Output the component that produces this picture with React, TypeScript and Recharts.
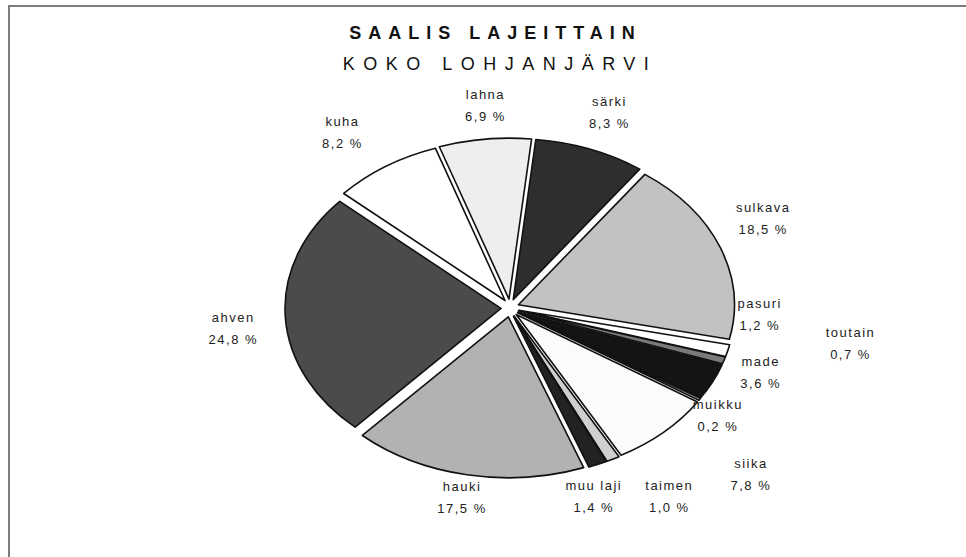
import React from 'react';
import { PieChart, Pie, Cell } from 'recharts';

// catch share by species, clockwise from the top
const species = ['särki', 'sulkava', 'pasuri', 'toutain', 'made', 'muikku', 'siika', 'taimen', 'muu laji', 'hauki', 'ahven', 'kuha', 'lahna'];
const shares = [8.3, 18.5, 1.2, 0.7, 3.6, 0.2, 7.8, 1.0, 1.4, 17.5, 24.8, 8.2, 6.9];
const shareLabels = ['8,3 %', '18,5 %', '1,2 %', '0,7 %', '3,6 %', '0,2 %', '7,8 %', '1,0 %', '1,4 %', '17,5 %', '24,8 %', '8,2 %', '6,9 %'];

const fills = ['#2e2e2e', '#c2c2c2', '#ffffff', '#7a7a7a', '#141414', '#f4f4f4', '#fbfbfb', '#cfcfcf', '#222222', '#b2b2b2', '#4b4b4b', '#ffffff', '#eeeeee'];
// manual label tweaks, like dragged labels in the original
const labelNudge: [number, number][] = [
  [8, -8], [14, -18], [2, -44], [97, -26], [20, -23], [-8, -1], [66, 20],
  [42, 10], [-16, 3], [1, -8], [-21, 10], [-26, -8], [4, -3],
];

const data = species.map((name, i) => ({ name, value: shares[i], label: shareLabels[i] }));

const TILT = 0.745;
const EXPLODE = 9;
const RAD = Math.PI / 180;

const EllipseSlice = (props: any) => {
  const { cx, cy, startAngle, endAngle, outerRadius, fill } = props;
  const rx = outerRadius;
  const ry = outerRadius * TILT;
  const mid = ((startAngle + endAngle) / 2) * RAD;
  const ox = cx + EXPLODE * Math.cos(mid);
  const oy = cy - EXPLODE * Math.sin(mid);
  const pt = (a: number) => [ox + rx * Math.cos(a * RAD), oy - ry * Math.sin(a * RAD)];
  const [x1, y1] = pt(startAngle);
  const [x2, y2] = pt(endAngle);
  const large = Math.abs(endAngle - startAngle) > 180 ? 1 : 0;
  const sweep = startAngle > endAngle ? 1 : 0;
  const d = `M${ox},${oy} L${x1},${y1} A${rx},${ry} 0 ${large} ${sweep} ${x2},${y2} Z`;
  return <path d={d} fill={fill} stroke="#111" strokeWidth={1.6} strokeLinejoin="round" />;
};

const renderLabel = (props: any) => {
  const { cx, cy, midAngle, outerRadius, index } = props;
  const m = midAngle * RAD;
  const [nx, ny] = labelNudge[index];
  const x = cx + (outerRadius + 40) * Math.cos(m) + nx;
  const y = cy - (outerRadius * TILT + 40) * Math.sin(m) + ny;
  const style = { fontFamily: 'Liberation Sans, Arial, sans-serif', fontSize: 13, letterSpacing: 1.5 };
  return (
    <g key={`lbl-${index}`}>
      <text x={x} y={y - 11} textAnchor="middle" dominantBaseline="central" fill="#222" style={style}>
        {data[index].name}
      </text>
      <text x={x} y={y + 11} textAnchor="middle" dominantBaseline="central" fill="#222" style={style}>
        {data[index].label}
      </text>
    </g>
  );
};

const App: React.FC = () => {
  return (
    <div style={{ position: 'absolute', left: 0, top: 0, width: 966, height: 557, background: '#fff' }}>
      <div
        style={{
          position: 'absolute', left: 8, top: 5, right: 0, bottom: 0,
          borderTop: '2px solid #7d7d7d', borderLeft: '2px solid #7d7d7d',
        }}
      />
      <div
        style={{
          position: 'absolute', left: 0, width: 991, top: 23, textAlign: 'center',
          fontFamily: 'Liberation Sans, Arial, sans-serif', fontWeight: 'bold', fontSize: 18,
          letterSpacing: 7, color: '#111',
        }}
      >
        SAALIS LAJEITTAIN
      </div>
      <div
        style={{
          position: 'absolute', left: 0, width: 1000, top: 54, textAlign: 'center',
          fontFamily: 'Liberation Sans, Arial, sans-serif', fontSize: 18,
          letterSpacing: 8.5, color: '#111',
        }}
      >
        KOKO LOHJANJÄRVI
      </div>
      <div style={{ position: 'absolute', left: 0, top: 0 }}>
        <PieChart width={966} height={557}>
          <Pie
            data={data}
            dataKey="value"
            nameKey="name"
            cx={505}
            cy={303}
            outerRadius={216}
            startAngle={84}
            endAngle={-276}
            shape={EllipseSlice}
            label={renderLabel}
            labelLine={false}
            isAnimationActive={false}
          >
            {data.map((d, i) => (
              <Cell key={d.name} fill={fills[i]} />
            ))}
          </Pie>
        </PieChart>
      </div>
    </div>
  );
};

export default App;
